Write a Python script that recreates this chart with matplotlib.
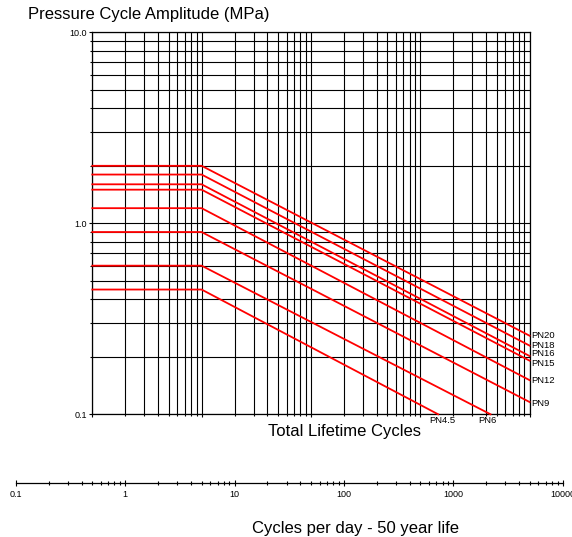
import matplotlib
matplotlib.use("Agg")
import matplotlib.pyplot as plt
from matplotlib.ticker import LogLocator, FixedLocator, NullFormatter, FixedFormatter

plt.rcParams['font.family'] = ['Liberation Sans', 'DejaVu Sans']

# pipe classes and their pressure cycle amplitude curves (MPa)
classes = ['PN20', 'PN18', 'PN16', 'PN15', 'PN12', 'PN9', 'PN6', 'PN4.5']
start_cycles = [1e4] * 8
knee_cycles = [1e5] * 8
flat_amp = [2.0, 1.8, 1.6, 1.5, 1.2, 0.9, 0.6, 0.45]
end_cycles = [1e8, 1e8, 1e8, 1e8, 1e8, 1e8, 4.4e7, 1.46e7]
end_amp = [0.258, 0.229, 0.202, 0.191, 0.151, 0.116, 0.1, 0.1]

y_ticks = [0.1, 1.0, 10.0]
y_tick_labels = ['0.1', '1.0', '10.0']
day_ticks = [0.1, 1, 10, 100, 1000, 10000]
day_tick_labels = ['0.1', '1', '10', '100', '1000', '10000']

W, H = 572, 537
fig = plt.figure(figsize=(W / 100, H / 100), dpi=100)

ax = fig.add_axes([92.3 / W, (H - 414.3) / H, 437.2 / W, 382.0 / H])
ax.set_xscale('log')
ax.set_yscale('log')
ax.set_xlim(1e4, 1e8)
ax.set_ylim(0.1, 10)

ax.grid(which='both', color='black', lw=0.8)
ax.set_axisbelow(True)
for s in ax.spines.values():
    s.set_linewidth(0.9)

for i in range(len(classes)):
    xs = [start_cycles[i], knee_cycles[i], end_cycles[i]]
    ys = [flat_amp[i], flat_amp[i], end_amp[i]]
    ax.plot(xs, ys, color='#ff0000', lw=1.3, clip_on=False, zorder=3)

# labels of the curves (pixel offsets from line ends)
px = 0.72
label_dx = [2, 2, 2, 2, 2, 2, -3, 4]
label_dy = [0, 0, 2, -2.5, 0, -1.5, -6, -6]
for i, name in enumerate(classes):
    ha = 'left' if end_cycles[i] >= 1e8 else 'center'
    ax.annotate(name, (end_cycles[i], end_amp[i]),
                xytext=(label_dx[i] * px, label_dy[i] * px),
                textcoords='offset points', ha=ha, va='center',
                fontsize=6.8, annotation_clip=False)

ax.yaxis.set_major_locator(FixedLocator(y_ticks))
ax.yaxis.set_major_formatter(FixedFormatter(y_tick_labels))
ax.yaxis.set_minor_locator(LogLocator(base=10, subs=range(2, 10)))
ax.yaxis.set_minor_formatter(NullFormatter())
ax.xaxis.set_minor_locator(LogLocator(base=10, subs=range(2, 10)))
ax.xaxis.set_major_formatter(NullFormatter())
ax.xaxis.set_minor_formatter(NullFormatter())
ax.tick_params(which='major', length=2.5, width=0.8, labelsize=6.5, pad=1.5)
ax.tick_params(which='minor', length=1.5, width=0.8)

fig.text(28 / W, 1 - 15 / H, 'Pressure Cycle Amplitude (MPa)', fontsize=12,
         ha='left', va='center')
fig.text(345 / W, 1 - 431.7 / H, 'Total Lifetime Cycles', fontsize=12,
         ha='center', va='center')

# secondary scale: cycles per day over a 50 year life
ax2 = fig.add_axes([15.7 / W, (H - 482.7) / H, 547.0 / W, 0.0001])
ax2.set_xscale('log')
ax2.set_xlim(0.1, 10000)
ax2.set_yticks([])
for side in ['top', 'left', 'right']:
    ax2.spines[side].set_visible(False)
ax2.spines['bottom'].set_linewidth(0.9)
ax2.xaxis.set_major_locator(FixedLocator(day_ticks))
ax2.xaxis.set_major_formatter(FixedFormatter(day_tick_labels))
ax2.xaxis.set_minor_locator(LogLocator(base=10, subs=range(2, 10)))
ax2.xaxis.set_minor_formatter(NullFormatter())
ax2.tick_params(which='major', direction='inout', length=5, width=0.8,
                labelsize=6.5, pad=3)
ax2.tick_params(which='minor', direction='inout', length=3, width=0.8)

fig.text(355 / W, 1 - 529 / H, 'Cycles per day - 50 year life', fontsize=12,
         ha='center', va='center')

fig.savefig('out.png', dpi=100)
